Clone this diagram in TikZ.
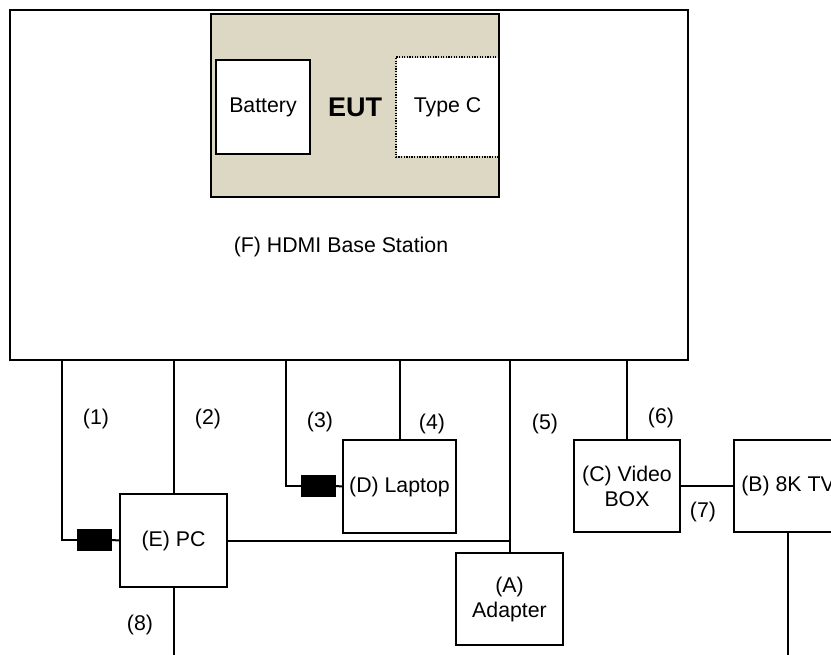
\documentclass[tikz,border=0pt]{standalone}
\usepackage{fontspec}
\setmainfont{Liberation Sans}
\definecolor{eutfill}{HTML}{DDD8C4}
\begin{document}
\begin{tikzpicture}[x=1pt,y=-1pt,line width=2pt,
  txt/.style={font=\fontsize{21.3}{25}\selectfont, inner sep=0pt, align=center},
  box/.style={draw, fill=white, rectangle, inner sep=0pt, font=\fontsize{21.3}{25}\selectfont, align=center},
  plug/.style={draw, fill=black, rectangle, inner sep=0pt, minimum width=33pt, minimum height=20pt},
  lbl/.style={txt}]
\useasboundingbox (0,0) rectangle (831,655);
% base station
\node[box, minimum width=678pt, minimum height=350pt] (F) at (349,185) {};
\node[lbl] (Ft) at (341,247) {(F) HDMI Base Station};
% EUT
\node[draw, fill=eutfill, rectangle, inner sep=0pt, minimum width=288pt, minimum height=183pt] (EUT) at (355,105.5) {};
\node[box, minimum width=94pt, minimum height=94pt] (bat) at (263,107) {Battery};
\node[box, draw=none, minimum width=101pt, minimum height=98pt] (tc) at (447.5,107) {Type C};
\draw[line width=1.6pt, dash pattern=on 1.3pt off 1.3pt] (tc.north east) -- (tc.north west) -- (tc.south west) -- (tc.south east);
\node[txt, font=\fontsize{27}{30}\selectfont\bfseries] (eut) at (355,107) {EUT};
% devices
\node[box, minimum width=107pt, minimum height=93pt] (E) at (173.5,540.5) {(E) PC};
\node[box, minimum width=113pt, minimum height=93pt] (D) at (399.5,486.5) {(D) Laptop};
\node[box, minimum width=107pt, minimum height=92pt] (A) at (509.5,599) {(A)\\Adapter};
\node[box, minimum width=106pt, minimum height=92pt] (C) at (627,486) {(C) Video\\BOX};
\node[box, minimum width=108pt, minimum height=92pt] (B) at (788,486) {(B) 8K TV};
\node[plug] (c1) at (94.5,540) {};
\node[plug] (c3) at (318.5,486) {};
\coordinate (e8) at (173.5,655);
\coordinate (eB) at (788,655);
% cables
\draw ([xshift=53pt]F.south west) |- (c1.west);
\draw (c1.east) -- (E.west);
\draw (E.north |- F.south) -- (E.north);
\draw ([xshift=277pt]F.south west) |- (c3.west);
\draw (c3.east) -- (D.west);
\draw (D.north |- F.south) -- (D.north);
\draw (A.north |- F.south) -- (A.north);
\draw (E.east) -- (E.east -| A.north);
\draw (C.north |- F.south) -- (C.north);
\draw (C.east) -- (B.west);
\draw (E.south) -- (e8);
\draw (B.south) -- (eB);
% labels
\node[lbl] (l1) at (96,419) {(1)};
\node[lbl] (l2) at (208,419) {(2)};
\node[lbl] (l3) at (320,422) {(3)};
\node[lbl] (l4) at (432,424) {(4)};
\node[lbl] (l5) at (545,424) {(5)};
\node[lbl] (l6) at (661,418) {(6)};
\node[lbl] (l7) at (703,512) {(7)};
\node[lbl] (l8) at (140,625) {(8)};
\end{tikzpicture}
\end{document}
